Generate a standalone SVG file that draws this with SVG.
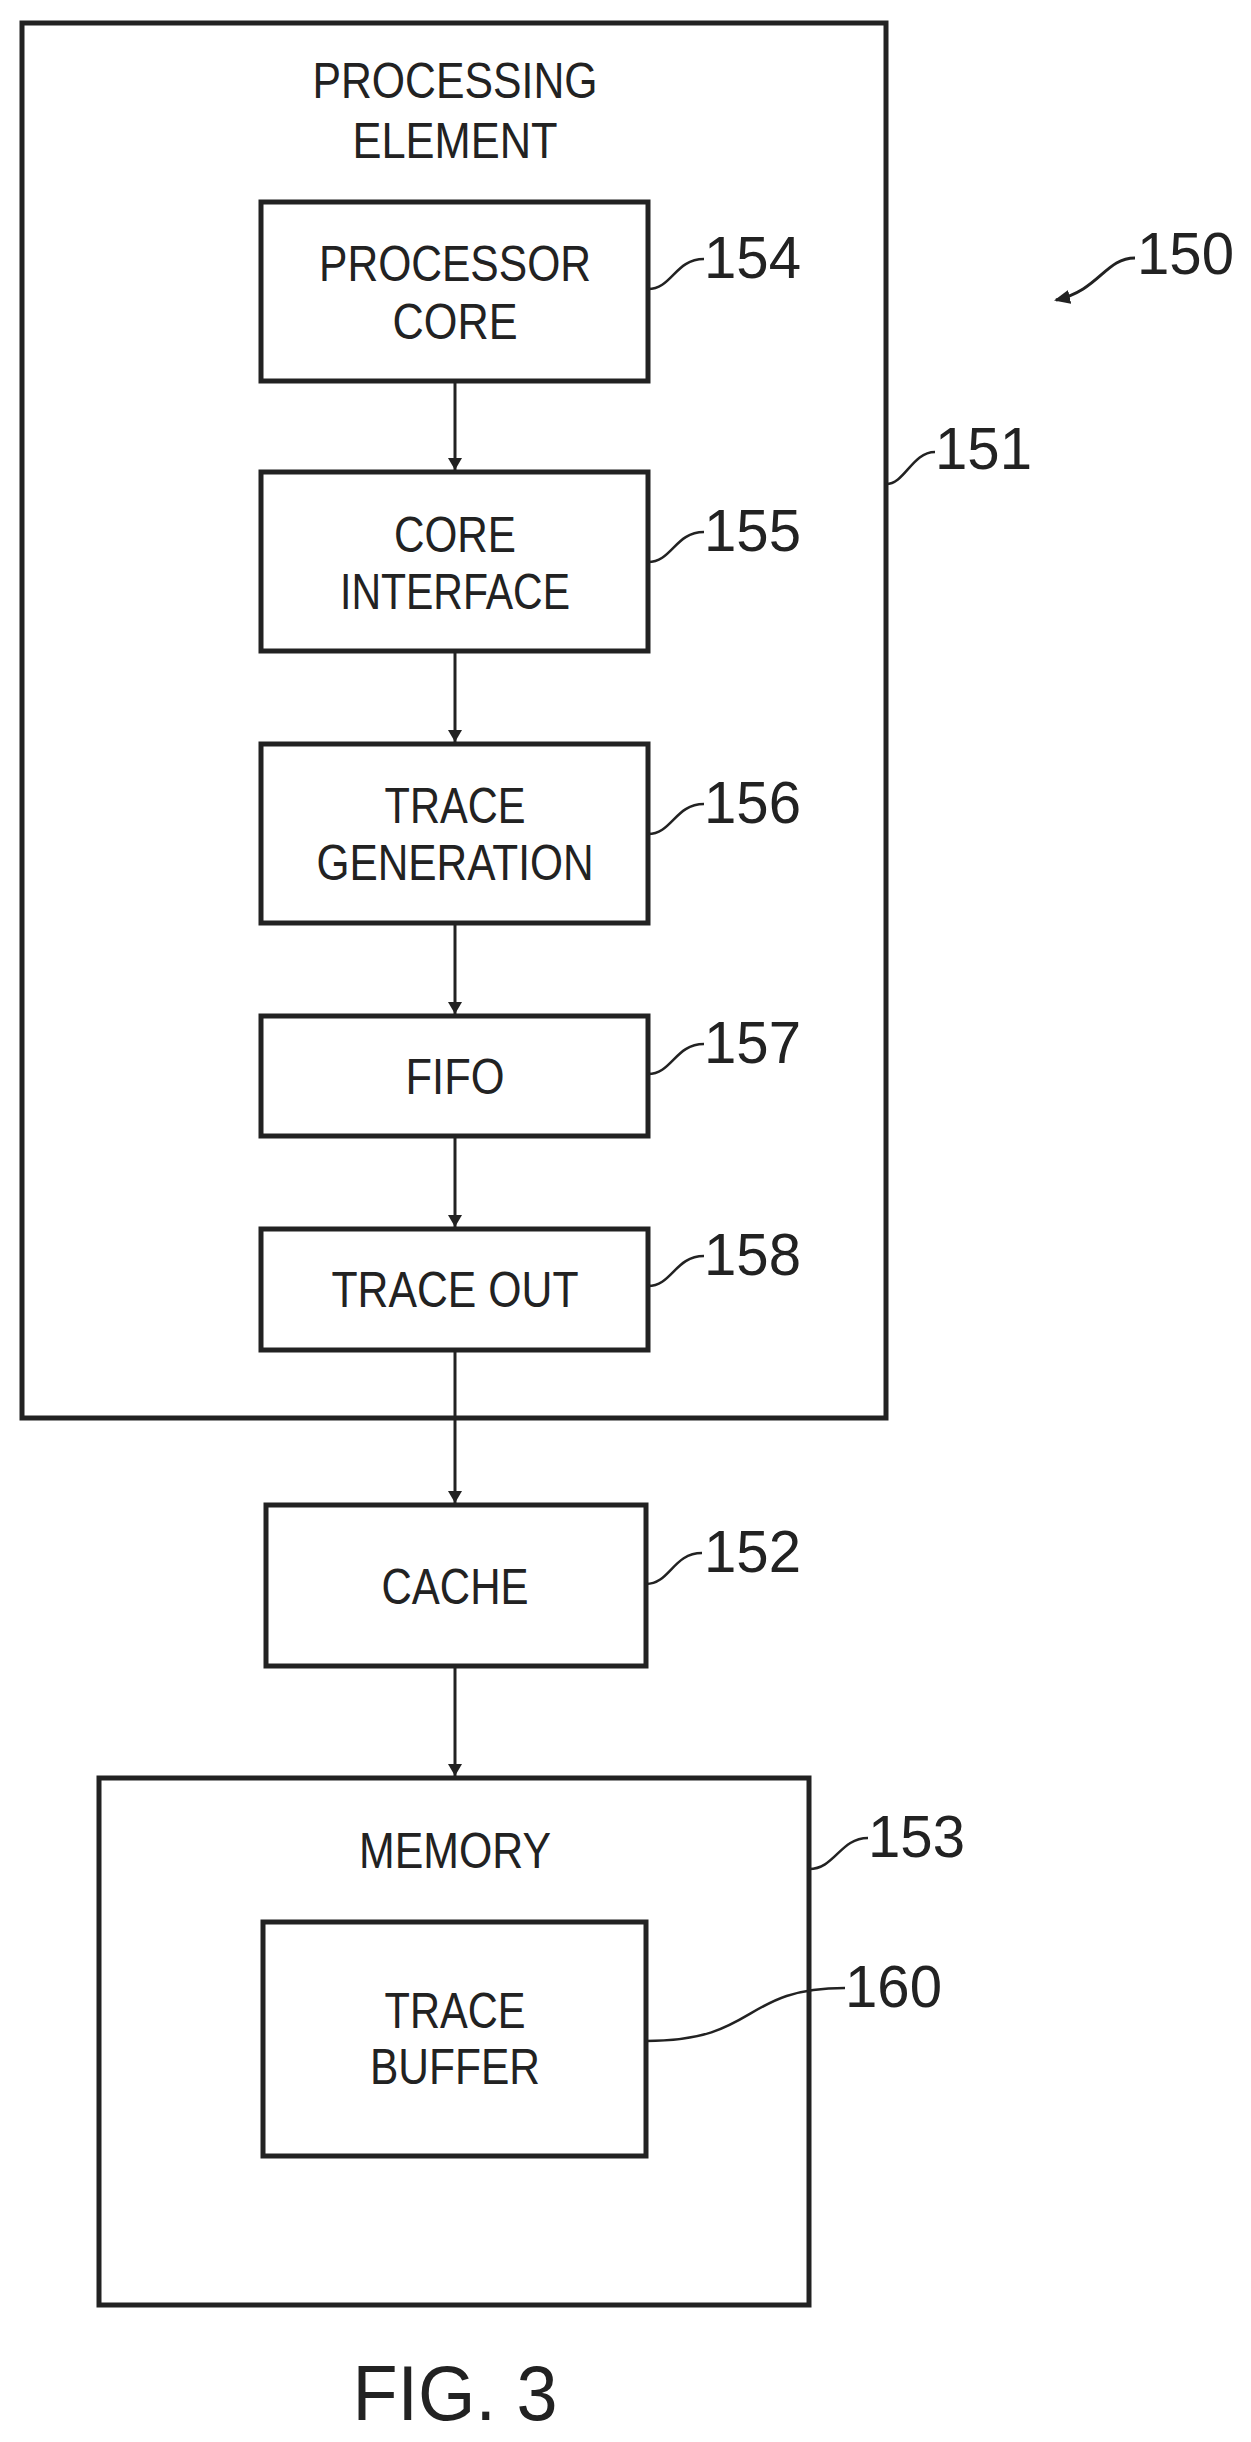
<svg xmlns="http://www.w3.org/2000/svg" width="1251" height="2442" viewBox="0 0 1251 2442">
<style>
.b{fill:none;stroke:#222;stroke-width:5}
.l{fill:none;stroke:#222;stroke-width:2.5}
.t{font-family:"Liberation Sans",Arial,sans-serif;font-size:50px;fill:#222;text-anchor:middle;dominant-baseline:central}
.n{font-family:"Liberation Sans",Arial,sans-serif;font-size:60px;fill:#222}
.c{fill:none;stroke:#222;stroke-width:3}
</style>
<defs><marker id="a" markerWidth="12" markerHeight="14" refX="12" refY="7" orient="auto" markerUnits="userSpaceOnUse"><path d="M0,0 L12,7 L0,14 Z" fill="#222"/></marker>
<marker id="ah" markerWidth="16" markerHeight="14" refX="14" refY="7" orient="auto" markerUnits="userSpaceOnUse"><path d="M0,0 L16,7 L0,14 Z" fill="#222"/></marker></defs>
<rect width="1251" height="2442" fill="#fff"/>
<g id="pe151"><rect class="b" x="22" y="23" width="864" height="1395"/>
<text class="t" x="455" y="81" textLength="285" lengthAdjust="spacingAndGlyphs">PROCESSING</text>
<text class="t" x="455" y="141" textLength="205" lengthAdjust="spacingAndGlyphs">ELEMENT</text>
<path class="l" d="M886,484 C905,484 912,452 935,452"/><text class="n" x="935" y="469" textLength="97" lengthAdjust="spacingAndGlyphs">151</text></g>
<g id="n154"><rect class="b" x="261" y="202" width="387" height="179"/>
<text class="t" x="455" y="264" textLength="272" lengthAdjust="spacingAndGlyphs">PROCESSOR</text>
<text class="t" x="455" y="322" textLength="125" lengthAdjust="spacingAndGlyphs">CORE</text>
<path class="l" d="M648,289 C672,289 675,259 704,259"/><text class="n" x="704" y="278" textLength="97" lengthAdjust="spacingAndGlyphs">154</text></g>
<g id="n155"><rect class="b" x="261" y="472" width="387" height="179"/>
<text class="t" x="455" y="535" textLength="122" lengthAdjust="spacingAndGlyphs">CORE</text>
<text class="t" x="455" y="592" textLength="230" lengthAdjust="spacingAndGlyphs">INTERFACE</text>
<path class="l" d="M648,562 C672,562 675,532 704,532"/><text class="n" x="704" y="551" textLength="97" lengthAdjust="spacingAndGlyphs">155</text></g>
<g id="n156"><rect class="b" x="261" y="744" width="387" height="179"/>
<text class="t" x="455" y="806" textLength="141" lengthAdjust="spacingAndGlyphs">TRACE</text>
<text class="t" x="455" y="863" textLength="277" lengthAdjust="spacingAndGlyphs">GENERATION</text>
<path class="l" d="M648,834 C672,834 675,804 704,804"/><text class="n" x="704" y="823" textLength="97" lengthAdjust="spacingAndGlyphs">156</text></g>
<g id="n157"><rect class="b" x="261" y="1016" width="387" height="120"/>
<text class="t" x="455" y="1077" textLength="99" lengthAdjust="spacingAndGlyphs">FIFO</text>
<path class="l" d="M648,1074 C672,1074 675,1044 704,1044"/><text class="n" x="704" y="1063" textLength="97" lengthAdjust="spacingAndGlyphs">157</text></g>
<g id="n158"><rect class="b" x="261" y="1229" width="387" height="121"/>
<text class="t" x="455" y="1290" textLength="247" lengthAdjust="spacingAndGlyphs">TRACE OUT</text>
<path class="l" d="M648,1286 C672,1286 675,1256 704,1256"/><text class="n" x="704" y="1275" textLength="97" lengthAdjust="spacingAndGlyphs">158</text></g>
<g id="n152"><rect class="b" x="266" y="1505" width="380" height="161"/>
<text class="t" x="455" y="1587" textLength="147" lengthAdjust="spacingAndGlyphs">CACHE</text>
<path class="l" d="M646,1584 C670,1584 673,1553 702,1553"/><text class="n" x="704" y="1572" textLength="97" lengthAdjust="spacingAndGlyphs">152</text></g>
<g id="n153"><rect class="b" x="99" y="1778" width="710" height="527"/>
<text class="t" x="455" y="1851" textLength="192" lengthAdjust="spacingAndGlyphs">MEMORY</text>
<path class="l" d="M809,1869 C835,1869 840,1838 868,1838"/><text class="n" x="868" y="1857" textLength="97" lengthAdjust="spacingAndGlyphs">153</text></g>
<g id="n160"><rect class="b" x="263" y="1922" width="383" height="234"/>
<text class="t" x="455" y="2011" textLength="141" lengthAdjust="spacingAndGlyphs">TRACE</text>
<text class="t" x="455" y="2067" textLength="170" lengthAdjust="spacingAndGlyphs">BUFFER</text>
<path class="l" d="M646,2041 C760,2041 740,1988 845,1988"/><text class="n" x="845" y="2007" textLength="97" lengthAdjust="spacingAndGlyphs">160</text></g>
<g id="ref150"><path class="c" d="M1135,258 C1105,258 1100,290 1056,300" marker-end="url(#ah)"/><text class="n" x="1137" y="274" textLength="97" lengthAdjust="spacingAndGlyphs">150</text></g>
<g id="connectors">
<line class="c" x1="455" y1="381" x2="455" y2="470" marker-end="url(#a)"/>
<line class="c" x1="455" y1="651" x2="455" y2="742" marker-end="url(#a)"/>
<line class="c" x1="455" y1="923" x2="455" y2="1014" marker-end="url(#a)"/>
<line class="c" x1="455" y1="1136" x2="455" y2="1227" marker-end="url(#a)"/>
<line class="c" x1="455" y1="1350" x2="455" y2="1503" marker-end="url(#a)"/>
<line class="c" x1="455" y1="1666" x2="455" y2="1776" marker-end="url(#a)"/>
</g>
<text class="t" x="455" y="2393" style="font-size:78px" textLength="205" lengthAdjust="spacingAndGlyphs">FIG. 3</text>
</svg>
